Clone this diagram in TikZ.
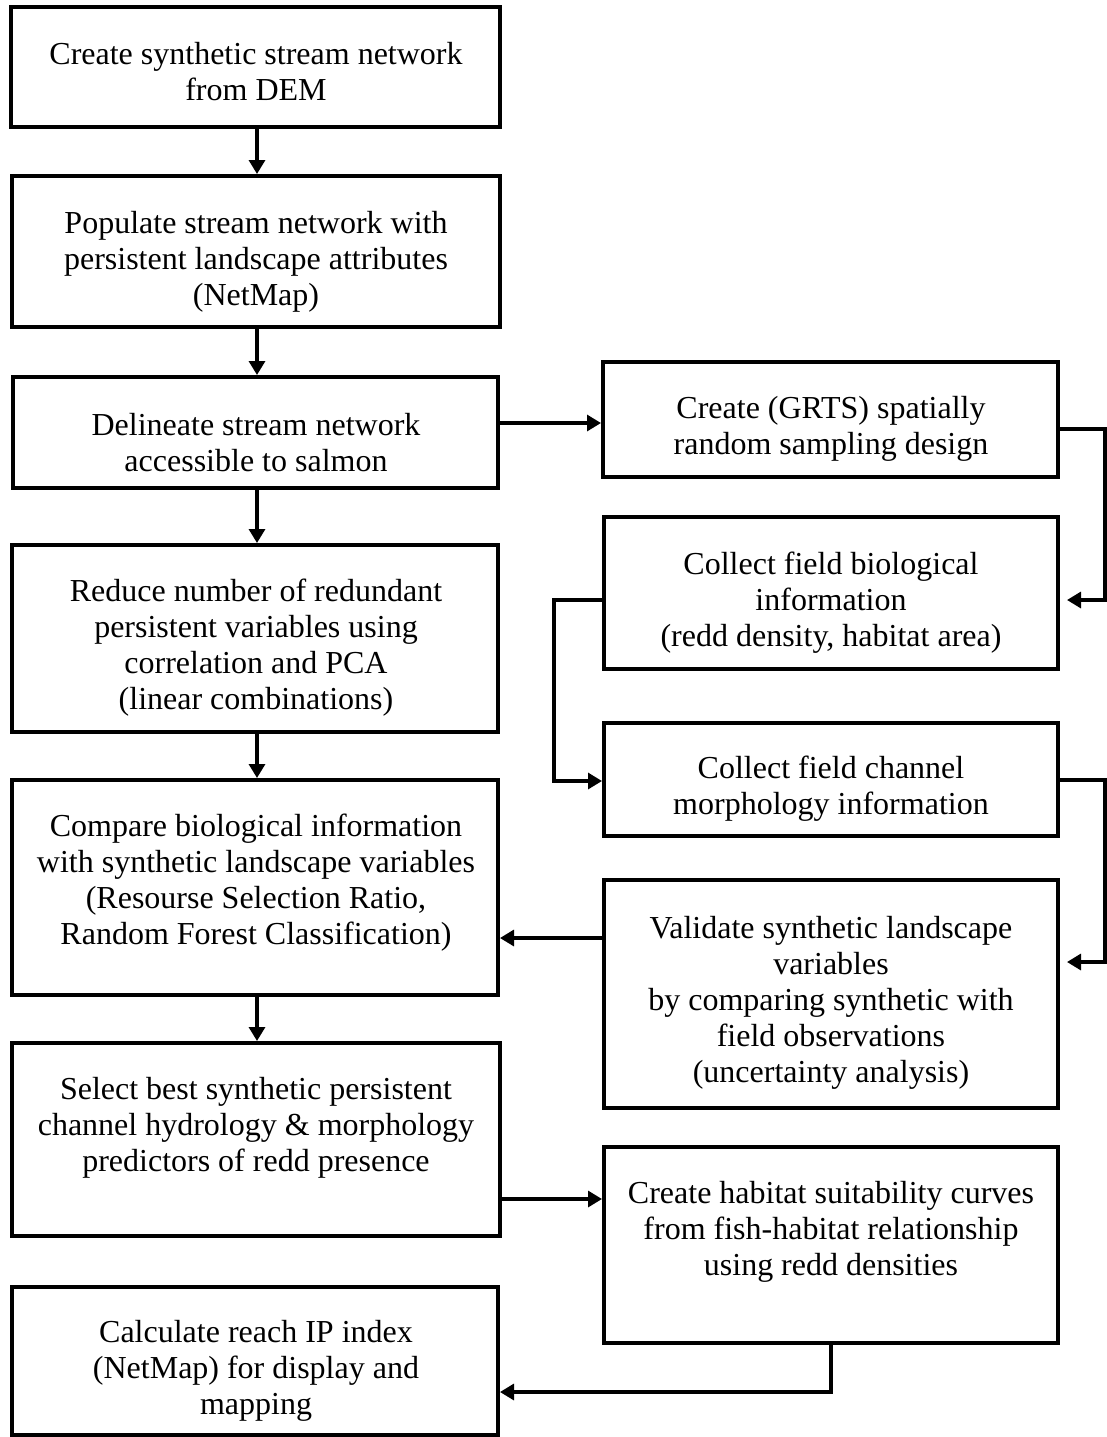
\documentclass[tikz,border=0pt]{standalone}
\usepackage{fontspec}
\setmainfont{Liberation Serif}
\usetikzlibrary{fit,arrows.meta}
\begin{document}
\begin{tikzpicture}[x=0.5pt,y=-0.5pt,
  box/.style={draw,line width=2pt,inner sep=0pt},
  txt/.style={align=center,inner sep=0pt,font=\fontsize{16}{18}\selectfont},
  arr/.style={line width=1.6pt,-{Triangle[length=7pt,width=8pt]}},
  ln/.style={line width=1.6pt}]
\useasboundingbox (0,0) rectangle (1107,1437);
% left column boxes
\node[box,fit={(11,7) (500,127)}] (b1) {};
\node[box,fit={(12,176) (500,327)}] (b2) {};
\node[box,fit={(13,377) (498,488)}] (b3) {};
\node[box,fit={(12,545) (498,732)}] (b4) {};
\node[box,fit={(12,780) (498,995)}] (b5) {};
\node[box,fit={(12,1043) (500,1236)}] (b6) {};
\node[box,fit={(12,1287) (498,1435)}] (b7) {};
% right column boxes
\node[box,fit={(603,362) (1058,477)}] (r1) {};
\node[box,fit={(604,517) (1058,669)}] (r2) {};
\node[box,fit={(604,723) (1058,836)}] (r3) {};
\node[box,fit={(604,880) (1058,1108)}] (r4) {};
\node[box,fit={(604,1147) (1058,1343)}] (r5) {};
% texts
\node[txt] (t1) at (256,72) {Create synthetic stream network\\from DEM};
\node[txt] (t2) at (256,262) {Populate stream network with\\persistent landscape attributes\\(NetMap)};
\node[txt] (t3) at (256,443) {Delineate stream network\\accessible to salmon};
\node[txt] (t4) at (256,648) {Reduce number of redundant\\persistent variables using\\correlation and PCA\\(linear combinations)};
\node[txt] (t5) at (256,883) {Compare biological information\\with synthetic landscape variables\\(Resourse Selection Ratio,\\Random Forest Classification)};
\node[txt] (t6) at (256,1128) {Select best synthetic persistent\\channel hydrology \& morphology\\predictors of redd presence};
\node[txt] (t7) at (256,1371) {Calculate reach IP index\\(NetMap) for display and\\mapping};
\node[txt] (u1) at (831,429) {Create (GRTS) spatially\\random sampling design};
\node[txt] (u2) at (831,603) {Collect field biological\\information\\(redd density, habitat area)};
\node[txt] (u3) at (831,789) {Collect field channel\\morphology information};
\node[txt] (u4) at (831,1003) {Validate synthetic landscape\\variables\\by comparing synthetic with\\field observations\\(uncertainty analysis)};
\node[txt] (u5) at (831,1232) {Create habitat suitability curves\\from fish-habitat relationship\\using redd densities};
% coordinates for connectors
\coordinate (c1) at (1105,429);
\coordinate (c2) at (1105,600);
\coordinate (c3) at (554,600);
\coordinate (c4) at (554,781);
\coordinate (c5) at (1105,780);
\coordinate (c6) at (1105,962);
\coordinate (c7) at (831,1392);
% vertical arrows
\draw[arr] (b1.south -| 257,0) -- (b2.north -| 257,0);
\draw[arr] (b2.south -| 257,0) -- (b3.north -| 257,0);
\draw[arr] (b3.south -| 257,0) -- (b4.north -| 257,0);
\draw[arr] (b4.south -| 257,0) -- (b5.north -| 257,0);
\draw[arr] (b5.south -| 257,0) -- (b6.north -| 257,0);
% side connectors
\draw[arr] (b3.east |- 0,423) -- (r1.west |- 0,423);
\draw[arr,shorten >=7pt/2] (r1.east |- c1) -- (c1) -- (c2) -- (r2.east |- c2);
\draw[arr] (r2.west |- c3) -- (c3) -- (c4) -- (r3.west |- c4);
\draw[arr,shorten >=7pt/2] (r3.east |- c5) -- (c5) -- (c6) -- (r4.east |- c6);
\draw[arr] (r4.west |- 0,938) -- (b5.east |- 0,938);
\draw[arr] (b6.east |- 0,1199) -- (r5.west |- 0,1199);
\draw[arr] (r5.south -| c7) -- (c7) -- (b7.east |- c7);
\end{tikzpicture}
\end{document}
